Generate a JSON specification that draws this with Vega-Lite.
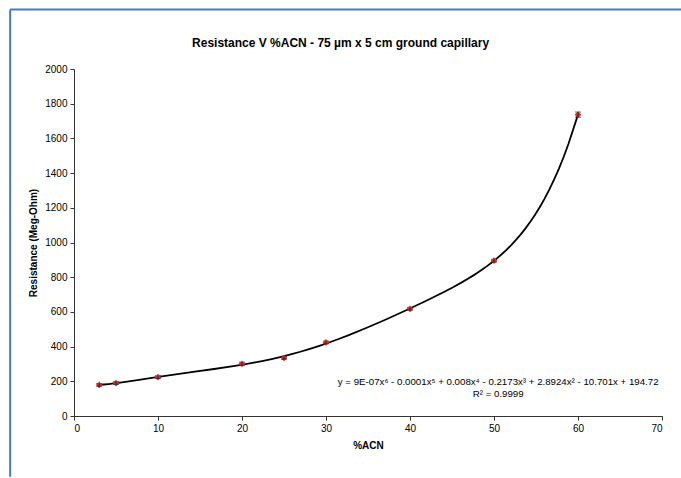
{
  "$schema": "https://vega.github.io/schema/vega-lite/v6.json",
  "autosize": {"type": "none"},
  "padding": {"left": 74, "top": 69, "right": 19, "bottom": 62},
  "width": 588,
  "height": 347,
  "background": "white",
  "config": {
    "font": "Liberation Sans",
    "view": {"stroke": null},
    "axis": {
      "grid": false,
      "domainColor": "#333333",
      "tickColor": "#333333",
      "labelColor": "black",
      "labelFontSize": 10,
      "titleFontSize": 10,
      "titleFontWeight": "bold",
      "titleColor": "black",
      "tickSize": 4,
      "labelOverlap": false
    }
  },
  "title": {
    "text": "Resistance V %ACN - 75 µm x 5 cm ground capillary",
    "fontSize": 12,
    "fontWeight": "bold",
    "color": "black",
    "anchor": "middle",
    "frame": "bounds",
    "offset": -42,
    "dx": -6
  },
  "datasets": {
    "pts": [
      {"pct": 3, "r": 179, "lo": 171, "hi": 187},
      {"pct": 5, "r": 190, "lo": 182, "hi": 198},
      {"pct": 10, "r": 224, "lo": 216, "hi": 232},
      {"pct": 20, "r": 301, "lo": 292, "hi": 310},
      {"pct": 25, "r": 335, "lo": 327, "hi": 343},
      {"pct": 30, "r": 424, "lo": 416, "hi": 432},
      {"pct": 40, "r": 618, "lo": 610, "hi": 626},
      {"pct": 50, "r": 895, "lo": 887, "hi": 903},
      {"pct": 60, "r": 1737, "lo": 1722, "hi": 1752}
    ],
    "notes": [
      {"pct": 50.5, "r": 196, "label": "y = 9E-07x⁶ - 0.0001x⁵ + 0.008x⁴ - 0.2173x³ + 2.8924x² - 10.701x + 194.72"},
      {"pct": 50.5, "r": 128, "label": "R² = 0.9999"}
    ]
  },
  "layer": [
    {
      "data": {"name": "pts"},
      "mark": {"type": "tick", "color": "#222222", "orient": "horizontal", "size": 6, "thickness": 1},
      "encoding": {
        "x": {
          "field": "pct", "type": "quantitative",
          "scale": {"domain": [0, 70], "nice": false, "zero": false},
          "axis": {"title": "%ACN", "values": [0, 10, 20, 30, 40, 50, 60, 70], "tickCount": 8, "format": "d", "labelPadding": 3, "titlePadding": 7, "labelOverlap": false}
        },
        "y": {
          "field": "hi", "type": "quantitative",
          "scale": {"domain": [0, 2000], "nice": false},
          "axis": {"title": "Resistance (Meg-Ohm)", "values": [0, 200, 400, 600, 800, 1000, 1200, 1400, 1600, 1800, 2000], "tickCount": 11, "format": "d", "labelPadding": 3, "titlePadding": 6, "labelOverlap": false}
        }
      }
    },
    {
      "data": {"values": [{}]},
      "mark": {"type": "rule", "color": "#4a78c4", "strokeWidth": 2, "clip": false},
      "encoding": {
        "x": {"datum": -7.6, "type": "quantitative"},
        "x2": {"datum": 72.5},
        "y": {"datum": 2343, "type": "quantitative"}
      }
    },
    {
      "data": {"values": [{}]},
      "mark": {"type": "rule", "color": "#4a78c4", "strokeWidth": 2, "clip": false},
      "encoding": {
        "x": {"datum": -7.6, "type": "quantitative"},
        "y": {"datum": 2343, "type": "quantitative"},
        "y2": {"datum": -350}
      }
    },
    {
      "data": {"name": "pts"},
      "transform": [{"regression": "r", "on": "pct", "method": "poly", "order": 6}],
      "mark": {"type": "line", "color": "black", "strokeWidth": 1.8},
      "encoding": {
        "x": {"field": "pct", "type": "quantitative"},
        "y": {"field": "r", "type": "quantitative"}
      }
    },
    {
      "data": {"name": "pts"},
      "mark": {"type": "point", "shape": "diamond", "filled": true, "color": "#d0302a", "size": 45, "opacity": 1},
      "encoding": {
        "x": {"field": "pct", "type": "quantitative"},
        "y": {"field": "r", "type": "quantitative"}
      }
    },
    {
      "data": {"name": "pts"},
      "mark": {"type": "rule", "color": "#222222", "strokeWidth": 1},
      "encoding": {
        "x": {"field": "pct", "type": "quantitative"},
        "y": {"field": "lo", "type": "quantitative"},
        "y2": {"field": "hi"}
      }
    },
    {
      "data": {"name": "pts"},
      "mark": {"type": "tick", "color": "#222222", "orient": "horizontal", "size": 6, "thickness": 1},
      "encoding": {
        "x": {"field": "pct", "type": "quantitative"},
        "y": {"field": "lo", "type": "quantitative"}
      }
    },
    {
      "data": {"name": "notes"},
      "mark": {"type": "text", "fontSize": 9.7, "color": "black", "align": "center", "baseline": "middle", "font": "Liberation Sans"},
      "encoding": {
        "x": {"field": "pct", "type": "quantitative"},
        "y": {"field": "r", "type": "quantitative"},
        "text": {"field": "label"}
      }
    }
  ]
}
